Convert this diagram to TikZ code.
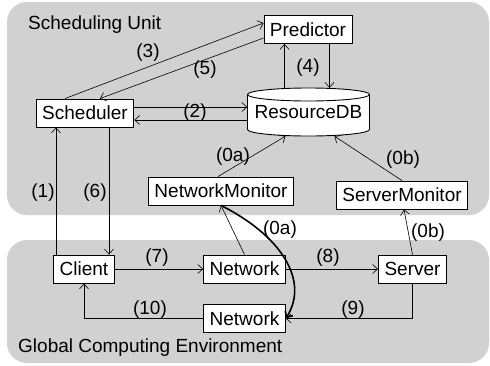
\documentclass[tikz,border=0pt]{standalone}
\usepackage{fontspec}
\setmainfont{Liberation Sans}
\usepackage{tikz}
\usetikzlibrary{arrows.meta}
\definecolor{regiongray}{rgb}{0.82,0.82,0.82}
\tikzset{
  unit box/.style={
    draw, fill=white, line width=0.9pt,
    minimum height={28pt}, inner xsep=6pt,
  },
  db body/.style={
    draw, fill=white, line width=0.9pt,
  },
  db cap/.style={
    x radius=61pt, y radius=6.5pt,
  },
  region/.style={
    fill=regiongray, rounded corners=20pt,
  },
  msg label/.style={
    inner sep=1pt,
  },
  flow/.style={->, line width=0.6pt},
}

\begin{document}
\begin{tikzpicture}[x=1pt, y=-1pt, font=\fontsize{19pt}{22pt}\selectfont,
    >={Straight Barb[length=5pt,width=9pt]}]
  \useasboundingbox (0,0) rectangle (490,365);

  % the two areas
  \fill [region] (7,2) rectangle (489,215);
  \fill [region] (7,240) rectangle (489,363);
  \node [anchor=west, inner sep=0pt] (su) at (28,25) {Scheduling Unit};
  \node [anchor=west, inner sep=0pt] (gce) at (18,348) {Global Computing Environment};

  % database drum
  \path [db body] (247.5,94.5) -- (247.5,129.5)
    arc [start angle=180, end angle=360, db cap] -- (369.5,94.5)
    arc [start angle=0, end angle=180, db cap] -- cycle;
  \draw [line width=0.9pt] (247.5,94.5) arc [start angle=180, end angle=360, db cap];

  \node [unit box] (predictor) at (308,29.5) {Predictor};
  \node [unit box] (scheduler) at (85,113) {Scheduler};
  \node [inner sep=0pt, minimum width=122pt, minimum height=48pt] (rdb) at (308.5,112) {ResourceDB};
  \node [unit box] (netmon) at (221,191) {NetworkMonitor};
  \node [unit box] (srvmon) at (402,195) {ServerMonitor};

  \node [unit box] (client) at (84,269) {Client};
  \node [unit box] (network1) at (244.5,269) {Network};
  \node [unit box] (server) at (412.5,269) {Server};
  \node [unit box] (network2) at (244.5,318.5) {Network};

  % scheduling unit
  \draw [flow] ([xshift=-20pt]scheduler.north) -- ([yshift=6.5pt]predictor.west);
  \draw [flow] ([yshift=-8.5pt]predictor.west) -- ([xshift=15pt]scheduler.north);
  \draw [flow] ([xshift=-24pt]rdb.north) -- ([xshift=-24pt]rdb.north |- predictor.south);
  \draw [flow] ([xshift=21pt]rdb.north |- predictor.south) -- ([xshift=21pt]rdb.north);
  \draw [flow] ([yshift=6pt]scheduler.east) -- ([yshift=6pt]scheduler.east -| rdb.west);
  \draw [flow] ([yshift=-7pt]scheduler.east -| rdb.west) -- ([yshift=-7pt]scheduler.east);
  \draw [flow] ([xshift=-3pt]netmon.north) -- ([xshift=-23pt]rdb.south);
  \draw [flow] (srvmon.north) -- ([xshift=26pt]rdb.south);

  % between the areas
  \draw [flow] ([xshift=-28pt]client.north) -- ([xshift=-28pt]client.north |- scheduler.south);
  \draw [flow] ([xshift=24pt]scheduler.south) -- ([xshift=24pt]scheduler.south |- client.north);
  \draw [flow] (network1.north) -- (netmon.south);
  \draw [flow] (server.north) -- ([xshift=2pt]srvmon.south);
  \draw [->, line width=1.6pt] (netmon.south) .. controls (280,235) and (310,280) .. (network2.east);

  % computing environment
  \draw [flow] (client.east) -- (network1.west);
  \draw [flow] (network1.east) -- (server.west);
  \draw [flow] (server.south) |- (network2.east);
  \draw [flow] (network2.west) -| (client.south);

  \node [msg label] (l3) at (148,53) {(3)};
  \node [msg label] (l5) at (205,70) {(5)};
  \node [msg label] (l4) at (308,68) {(4)};
  \node [msg label] (l2) at (195,113) {(2)};
  \node [msg label] (l0a) at (233,157) {(0a)};
  \node [msg label] (l0b) at (403,160) {(0b)};
  \node [msg label] (l1) at (43,193) {(1)};
  \node [msg label] (l6) at (95,193) {(6)};
  \node [msg label] (l0a2) at (280,230) {(0a)};
  \node [msg label] (l0b2) at (428,233) {(0b)};
  \node [msg label] (l7) at (157,258) {(7)};
  \node [msg label] (l8) at (328,258) {(8)};
  \node [msg label] (l10) at (150,310) {(10)};
  \node [msg label] (l9) at (353,310) {(9)};
\end{tikzpicture}
\end{document}
